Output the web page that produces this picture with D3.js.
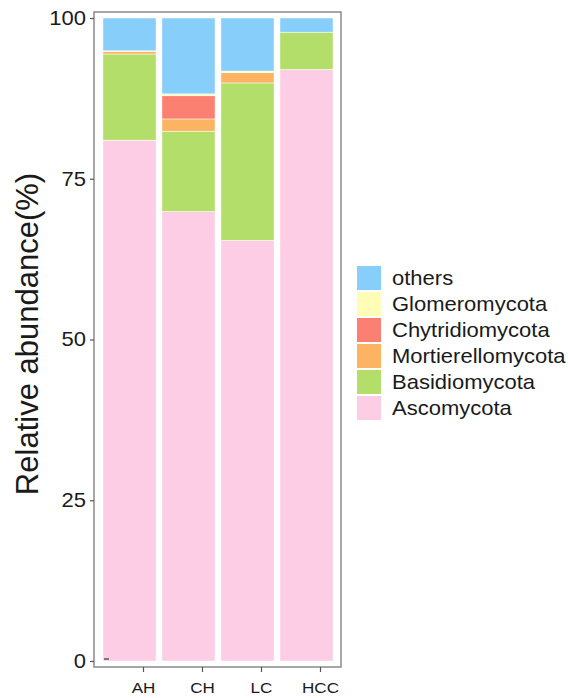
<!DOCTYPE html>
<html>
<head>
<meta charset="utf-8">
<script src="https://cdn.jsdelivr.net/npm/d3@7"></script>
<style>
  html, body { margin: 0; padding: 0; background: #fff; }
  svg { display: block; font-family: "Liberation Sans", Arial, sans-serif; }
</style>
</head>
<body>
<svg id="chart" width="568" height="698"></svg>
<script>
const categories = ["AH", "CH", "LC", "HCC"];
const seriesNames = ["Ascomycota", "Basidiomycota", "Mortierellomycota", "Chytridiomycota", "Glomeromycota", "others"];
const Ascomycota        = [81.0, 69.9, 65.4, 92.0];
const Basidiomycota     = [13.4, 12.5, 24.5, 5.8];
const Mortierellomycota = [0.4, 1.9, 1.6, 0.0];
const Chytridiomycota   = [0.05, 3.6, 0.0, 0.0];
const Glomeromycota     = [0.05, 0.3, 0.25, 0.0];
const others            = [5.1, 11.8, 8.25, 2.2];
const yTicks = [0, 25, 50, 75, 100];
const legendOrder = ["others", "Glomeromycota", "Chytridiomycota", "Mortierellomycota", "Basidiomycota", "Ascomycota"];

const seriesValues = { Ascomycota, Basidiomycota, Mortierellomycota, Chytridiomycota, Glomeromycota, others };
const colors = {
  others: "#87CEFA",
  Glomeromycota: "#FFFDB8",
  Chytridiomycota: "#FB8072",
  Mortierellomycota: "#FDB462",
  Basidiomycota: "#B3DE69",
  Ascomycota: "#FCCDE5"
};

const table = categories.map((c, i) => {
  const row = { category: c };
  seriesNames.forEach(s => row[s] = seriesValues[s][i]);
  return row;
});

const svg = d3.select("#chart");
const panel = { x0: 94, x1: 341, y0: 12, y1: 667 };

const x = d3.scaleBand().domain(categories).range([100, 336]).paddingInner(0.1).paddingOuter(0.05);
const xAxisScale = x.copy().range([114, 350]);
const y = d3.scaleLinear().domain([0, 100]).range([661, 18]);

const stacked = d3.stack().keys(seriesNames)(table);

svg.append("g").selectAll("g")
  .data(stacked).join("g")
  .attr("fill", d => colors[d.key])
  .selectAll("rect")
  .data(d => d).join("rect")
  .attr("x", d => x(d.data.category))
  .attr("width", x.bandwidth())
  .attr("y", d => y(d[1]))
  .attr("height", d => Math.max(0, y(d[0]) - y(d[1])))
  .attr("stroke", "#fff")
  .attr("stroke-width", 0.5);

// panel border
svg.append("rect")
  .attr("x", panel.x0).attr("y", panel.y0)
  .attr("width", panel.x1 - panel.x0).attr("height", panel.y1 - panel.y0)
  .attr("fill", "none").attr("stroke", "#8a8a8a").attr("stroke-width", 1.5);

// small mark near origin
svg.append("line")
  .attr("x1", 104).attr("x2", 109)
  .attr("y1", y(0) - 2).attr("y2", y(0) - 2)
  .attr("stroke", "#333").attr("stroke-width", 1.2);

// y axis
const yAxis = svg.append("g")
  .attr("transform", `translate(${panel.x0},0)`)
  .call(d3.axisLeft(y).tickValues(yTicks).tickSize(4).tickPadding(4));
yAxis.select(".domain").remove();
yAxis.selectAll(".tick line").attr("stroke", "#555").attr("stroke-width", 1.2);
yAxis.selectAll(".tick text")
  .attr("fill", "#1a1a1a")
  .attr("x", 0)
  .attr("transform", "translate(-8,0) scale(1.1,1)")
  .style("font-size", "20px");

// x axis
const xAxis = svg.append("g")
  .attr("transform", `translate(0,${panel.y1})`)
  .call(d3.axisBottom(xAxisScale).tickSize(5).tickPadding(4));
xAxis.select(".domain").remove();
xAxis.selectAll(".tick line").attr("stroke", "#555").attr("stroke-width", 1.2);
xAxis.selectAll(".tick text")
  .attr("fill", "#1a1a1a")
  .attr("y", 0)
  .attr("dy", 0)
  .attr("transform", "translate(0,25.5) scale(1.1,1)")
  .style("font-size", "15.5px");

// y title
svg.append("text")
  .attr("transform", "translate(38,334) rotate(-90)")
  .attr("text-anchor", "middle")
  .attr("fill", "#1a1a1a")
  .style("font-size", "31px")
  .text("Relative abundance(%)");

// legend
const legend = svg.append("g").attr("transform", "translate(357,266)");
const items = legend.selectAll("g").data(legendOrder).join("g")
  .attr("transform", (d, i) => `translate(0,${i * 26})`);
items.append("rect")
  .attr("width", 24).attr("height", 24)
  .attr("fill", d => colors[d]);
items.append("text")
  .attr("transform", "translate(35,12) scale(1.1,1)")
  .attr("dy", "0.36em")
  .attr("fill", "#1a1a1a")
  .style("font-size", "20px")
  .text(d => d);
</script>
</body>
</html>
